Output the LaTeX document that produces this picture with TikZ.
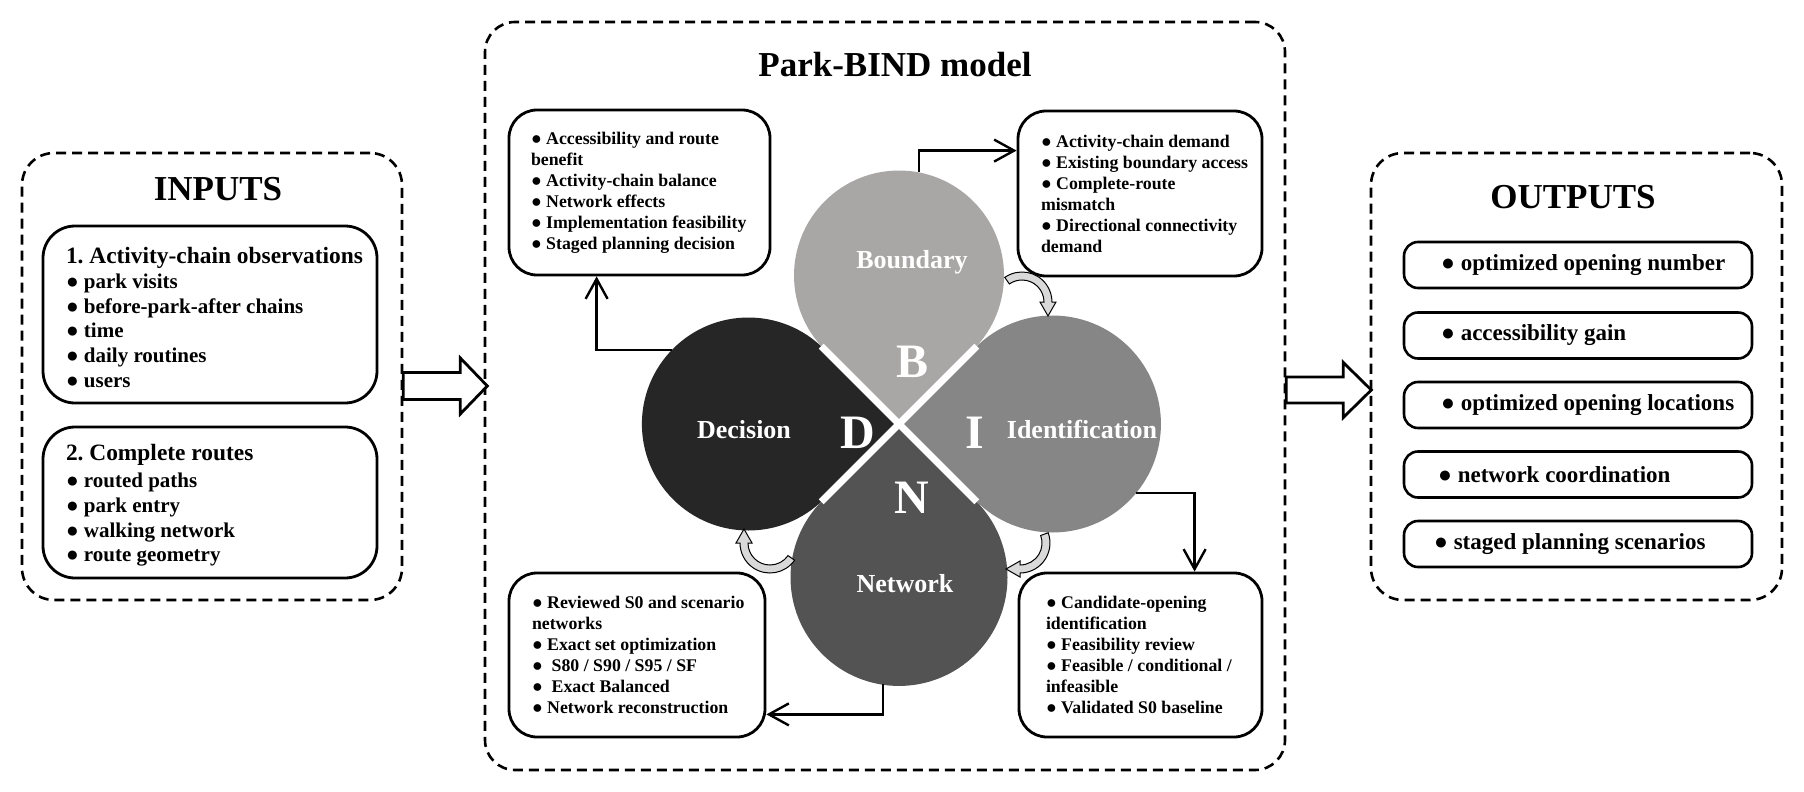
\documentclass[tikz,border=0pt]{standalone}
\usepackage{fontspec}
\setmainfont{Liberation Serif}
\usetikzlibrary{arrows.meta,calc}

\definecolor{bndGray}{RGB}{169,166,166}
\definecolor{idtGray}{RGB}{134,134,134}
\definecolor{netGray}{RGB}{83,83,83}
\definecolor{decGray}{RGB}{38,38,38}
\definecolor{arcGray}{RGB}{217,217,217}

\newcommand{\fTitle}{\fontsize{17.5}{21}\selectfont\bfseries}
\newcommand{\fHead}{\fontsize{11.7}{12.4}\selectfont\bfseries}
\newcommand{\fItem}{\fontsize{10.5}{12.4}\selectfont\bfseries}
\newcommand{\fOut}{\fontsize{11.5}{13}\selectfont\bfseries}
\newcommand{\fCard}{\fontsize{8.9}{10.5}\selectfont\bfseries}
\newcommand{\fPetal}{\fontsize{13}{15}\selectfont\bfseries}
\newcommand{\fLetter}{\fontsize{24}{28}\selectfont\bfseries}
\frenchspacing

\begin{document}
\begin{tikzpicture}[x=0.5pt, y=-0.5pt,
  frame/.style={draw, line width=1.3pt, dash pattern=on 5pt off 3pt, rounded corners=16pt},
  card/.style={draw, line width=1.4pt, rounded corners=14pt},
  txt/.style={inner sep=0pt, align=left, anchor=west},
  conn/.style={line width=1.2pt, -{Straight Barb[length=10pt,width=11pt]}},
  hollow/.style={draw, line width=1.4pt, fill=white},
  petal/.style={text=white, anchor=base}]
\useasboundingbox (0,0) rectangle (1804,792);

\node[frame, minimum width=190pt, minimum height=223.5pt] (inputs) at (212,376.5) {};
\node[font=\fTitle, anchor=base] (inTitle) at (218,200) {INPUTS};
\node[card, rounded corners=16pt, minimum width=167pt, minimum height=88.5pt] (obsBox) at (210,314.5) {};
\node[txt, font=\fItem] (obsTxt) at ([xshift=12pt,yshift=-1.5pt]obsBox.west)
  {{\fHead 1. Activity-chain observations}\\● park visits\\● before-park-after chains\\● time\\● daily routines\\● users};
\node[card, rounded corners=16pt, minimum width=167pt, minimum height=75.5pt] (routeBox) at (210,502.5) {};
\node[txt, font=\fItem] (routeTxt) at ([xshift=12pt,yshift=-1.5pt]routeBox.west)
  {{\fHead 2. Complete routes}\\[1pt]● routed paths\\● park entry\\● walking network\\● route geometry};

\node[frame, rounded corners=15pt, minimum width=400pt, minimum height=374pt] (model) at (885,396) {};
\node[font=\fTitle, anchor=base] (modelTitle) at (895,77) {Park-BIND model};

\node[card, minimum width=130.5pt, minimum height=82.5pt] (decBox) at (639.5,192.5) {};
\node[txt, font=\fCard] (decTxt) at ([xshift=11.5pt]decBox.west)
  {● Accessibility and route\\benefit\\● Activity-chain balance\\● Network effects\\● Implementation feasibility\\● Staged planning decision};
\node[card, minimum width=122pt, minimum height=82.5pt] (bndBox) at (1140,193.5) {};
\node[txt, font=\fCard] (bndTxt) at ([xshift=12pt]bndBox.west)
  {● Activity-chain demand\\● Existing boundary access\\● Complete-route\\mismatch\\● Directional connectivity\\demand};
\node[card, minimum width=128pt, minimum height=82pt] (netBox) at (637,655) {};
\node[txt, font=\fCard] (netTxt) at ([xshift=12pt]netBox.west)
  {● Reviewed S0 and scenario\\networks\\● Exact set optimization\\● \ S80 / S90 / S95 / SF\\● \ Exact Balanced\\● Network reconstruction};
\node[card, minimum width=121.5pt, minimum height=82pt] (idBox) at (1140.5,655) {};
\node[txt, font=\fCard] (idTxt) at ([xshift=14pt]idBox.west)
  {● Candidate-opening\\identification\\● Feasibility review\\● Feasible / conditional /\\infeasible\\● Validated S0 baseline};

\coordinate (hub) at (899,424);
\foreach \ang/\rad/\col in {270/105/bndGray, 0/108.5/idtGray, 90/108.5/netGray, 180/106.5/decGray}
  \fill[\col] (hub) -- ++(\ang-45:\rad) arc[start angle=\ang+225, end angle=\ang+495, radius=\rad] -- cycle;
\draw[white, line width=3.5pt] ($(hub)+(45:110)$) -- ($(hub)+(225:110)$);
\draw[white, line width=3.5pt] ($(hub)+(135:110)$) -- ($(hub)+(315:110)$);

\node[petal, font=\fPetal] (bndLbl) at (912,268) {Boundary};
\node[petal, font=\fPetal] (idtLbl) at (1082,438) {Identification};
\node[petal, font=\fPetal] (netLbl) at (905,592) {Network};
\node[petal, font=\fPetal] (decLbl) at (744,438) {Decision};
\node[petal, font=\fLetter] (bLet) at (912,377) {B};
\node[petal, font=\fLetter] (iLet) at (975,448) {I};
\node[petal, font=\fLetter] (nLet) at (912,513) {N};
\node[petal, font=\fLetter] (dLet) at (858,448) {D};

\foreach \cx/\cy/\sa/\ea in {1022/302/235/360, 1020/543/340/450, 770/543/35/180}
  \filldraw[fill=arcGray, line width=0.5pt]
    ($(\cx,\cy)+(\sa:30)$) arc[start angle=\sa, end angle=\ea, radius=30]
    -- ($(\cx,\cy)+(\ea:34)$) -- ($(\cx,\cy)+(\ea:26)+(\ea+90:14)$)
    -- ($(\cx,\cy)+(\ea:18)$) -- ($(\cx,\cy)+(\ea:22)$)
    arc[start angle=\ea, end angle=\sa, radius=22] -- cycle;

\coordinate (bTip) at (919,172);
\coordinate (dTip) at (672,350);
\coordinate (iTip) at (1136,493);
\coordinate (nTip) at (883,684);
\draw[conn] (bTip) |- ([yshift=-20.5pt]bndBox.north west);
\draw[conn] (dTip) -| ([xshift=44.5pt]decBox.south west);
\draw[conn] (iTip) -| ([xshift=88.5pt]idBox.north west);
\draw[conn] (nTip) |- ([yshift=12pt]netBox.south east);

\node[frame, minimum width=205.5pt, minimum height=223.5pt] (outputs) at (1576.5,376.5) {};
\node[font=\fTitle, anchor=base] (outTitle) at (1573,208) {OUTPUTS};
\foreach \i/\yy/\dx/\lbl in {1/265/19/optimized opening number, 2/335.5/19/accessibility gain,
    3/405/19/optimized opening locations, 4/474.5/17.5/network coordination, 5/544/15.5/staged planning scenarios} {
  \node[card, line width=1.3pt, rounded corners=7pt, minimum width=174pt, minimum height=23pt] (out\i) at (1578,\yy) {};
  \node[txt, font=\fOut] (outTxt\i) at ([xshift=\dx pt]out\i.west) {● \lbl};
}

\draw[hollow] ([yshift=-4.75pt]inputs.east) ++(0,-13.5) -- ++(57,0) -- ++(0,-14.5) -- ++(27,28) -- ++(-27,28) -- ++(0,-14.5) -- ++(-57,0) -- cycle;
\draw[hollow] ([yshift=3pt]model.east) ++(0,-13) -- ++(57,0) -- ++(0,-14.5) -- ++(28,27.5) -- ++(-28,27.5) -- ++(0,-14.5) -- ++(-57,0) -- cycle;
\end{tikzpicture}
\end{document}
